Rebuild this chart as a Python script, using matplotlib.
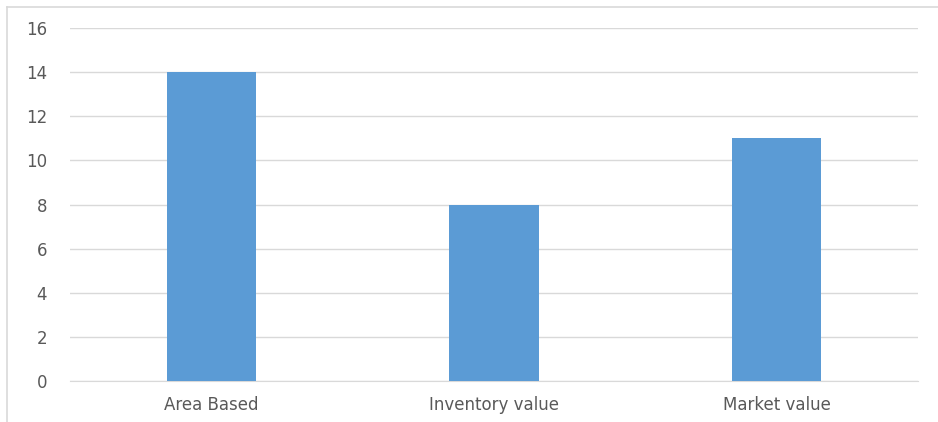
import matplotlib.pyplot as plt
from matplotlib.lines import Line2D

plt.rcParams['font.family'] = ['DejaVu Sans']

categories = ["Area Based", "Inventory value", "Market value"]
values = [14, 8, 11]
yticks = [0, 2, 4, 6, 8, 10, 12, 14, 16]

fig = plt.figure(figsize=(9.38, 4.22), dpi=100)
ax = fig.add_axes([70 / 938, 41 / 422, 848 / 938, 353 / 422])

x = range(len(categories))
ax.bar(x, values, width=0.315, color="#5B9BD5", zorder=3)

ax.set_xlim(-0.5, len(categories) - 0.5)
ax.set_ylim(0, 16)
ax.set_yticks(yticks)
ax.set_xticks(list(x))
ax.set_xticklabels(categories)
ax.grid(axis='y', color="#d9d9d9", linewidth=1, zorder=0)
ax.tick_params(length=0, labelsize=12, labelcolor="#595959")
ax.tick_params(axis='y', pad=16.5)
ax.tick_params(axis='x', pad=10.5)
for s in ['top', 'right', 'left']:
    ax.spines[s].set_visible(False)
ax.spines['bottom'].set_color("#d9d9d9")

# outer frame (top and left only)
fig.add_artist(Line2D([7 / 938, 1], [1 - 7 / 422, 1 - 7 / 422], color="#d9d9d9", lw=1.2, transform=fig.transFigure))
fig.add_artist(Line2D([7 / 938, 7 / 938], [0, 1 - 7 / 422], color="#d9d9d9", lw=1.2, transform=fig.transFigure))

fig.savefig("out.png", dpi=100)
